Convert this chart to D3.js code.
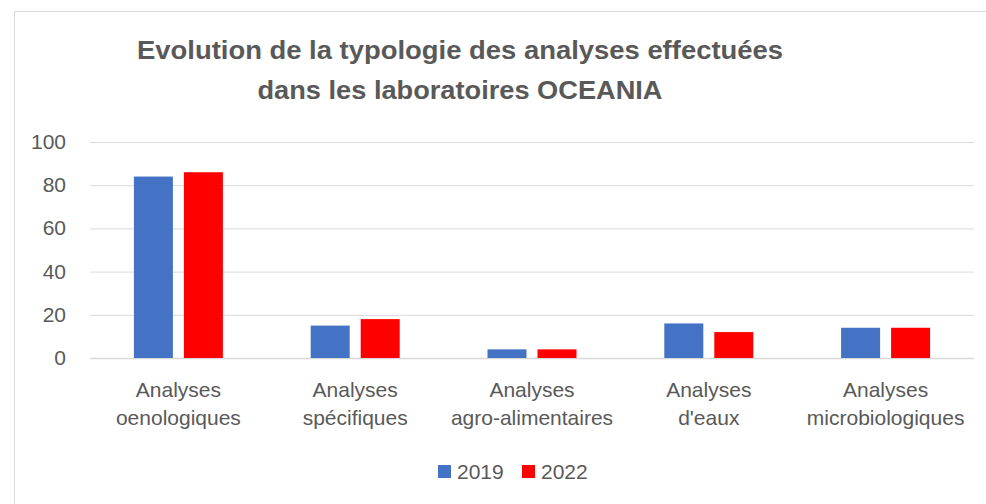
<!DOCTYPE html>
<html>
<head>
<meta charset="utf-8">
<script src="https://cdn.jsdelivr.net/npm/d3@7"></script>
<style>
body { margin: 0; background: #fff; }
text { font-family: "Liberation Sans", Arial, sans-serif; fill: #595959; }
</style>
</head>
<body>
<svg id="canvas" width="986" height="504"></svg>
<script>
var width = 986;
var height = 504;

var categories = [
  ["Analyses", "oenologiques"],
  ["Analyses", "spécifiques"],
  ["Analyses", "agro-alimentaires"],
  ["Analyses", "d'eaux"],
  ["Analyses", "microbiologiques"]
];
var years = ["2019", "2022"];
var values2019 = [84, 15, 4, 16, 14];
var values2022 = [86, 18, 4, 12, 14];
var yTicks = [0, 20, 40, 60, 80, 100];
var colors = ["#4472c4", "#ff0000"];

var svg = d3.select("#canvas");

// chart border
svg.append("rect")
  .attr("x", 14.5).attr("y", 11.5)
  .attr("width", 990).attr("height", 500)
  .attr("fill", "none")
  .attr("stroke", "#d9d9d9");

// title
var title = svg.append("text")
  .attr("text-anchor", "middle")
  .style("font-weight", "bold")
  .style("font-size", "26px");
title.append("tspan").attr("x", 460).attr("y", 59)
  .attr("textLength", 646).attr("lengthAdjust", "spacingAndGlyphs")
  .text("Evolution de la typologie des analyses effectuées");
title.append("tspan").attr("x", 460).attr("y", 99)
  .attr("textLength", 405).attr("lengthAdjust", "spacingAndGlyphs")
  .text("dans les laboratoires OCEANIA");

var xScale = d3.scaleBand()
  .domain(d3.range(categories.length))
  .range([90, 974]);

var xInner = d3.scaleBand()
  .domain(years)
  .range([0, 89])
  .paddingInner(0.22);

var yScale = d3.scaleLinear()
  .domain([0, 100])
  .range([358, 142]);

// gridlines
svg.append("g").selectAll("line")
  .data(yTicks)
  .enter().append("line")
  .attr("x1", 90).attr("x2", 974)
  .attr("y1", function(d) { return yScale(d) + 0.5; })
  .attr("y2", function(d) { return yScale(d) + 0.5; })
  .attr("stroke", "#d9d9d9")
  .attr("stroke-width", function(d) { return d === 0 ? 1.5 : 1; });

// y tick labels
svg.append("g").selectAll("text")
  .data(yTicks)
  .enter().append("text")
  .attr("x", 66)
  .attr("y", function(d) { return yScale(d) + 7; })
  .attr("text-anchor", "end")
  .style("font-size", "21px")
  .text(function(d) { return d; });

// bars
var series = [values2019, values2022];
series.forEach(function(vals, s) {
  svg.append("g").selectAll("rect")
    .data(vals)
    .enter().append("rect")
    .attr("x", function(d, i) {
      return xScale(i) + xScale.bandwidth() / 2 - 44.5 + xInner(years[s]);
    })
    .attr("width", xInner.bandwidth())
    .attr("y", function(d) { return yScale(d); })
    .attr("height", function(d) { return yScale(0) - yScale(d); })
    .attr("fill", colors[s]);
});

// category labels
var cat = svg.append("g").selectAll("text")
  .data(categories)
  .enter().append("text")
  .attr("text-anchor", "middle")
  .style("font-size", "21px");
cat.append("tspan")
  .attr("x", function(d, i) { return xScale(i) + xScale.bandwidth() / 2; })
  .attr("y", 397)
  .text(function(d) { return d[0]; });
cat.append("tspan")
  .attr("x", function(d, i) { return xScale(i) + xScale.bandwidth() / 2; })
  .attr("y", 425)
  .text(function(d) { return d[1]; });

// legend
var legendX = [438, 522];
var legend = svg.append("g").selectAll("g")
  .data(years)
  .enter().append("g")
  .attr("transform", function(d, i) { return "translate(" + legendX[i] + ",465)"; });
legend.append("rect")
  .attr("width", 13).attr("height", 13)
  .attr("fill", function(d, i) { return colors[i]; });
legend.append("text")
  .attr("x", 19).attr("y", 14)
  .style("font-size", "21px")
  .text(function(d) { return d; });
</script>
</body>
</html>
